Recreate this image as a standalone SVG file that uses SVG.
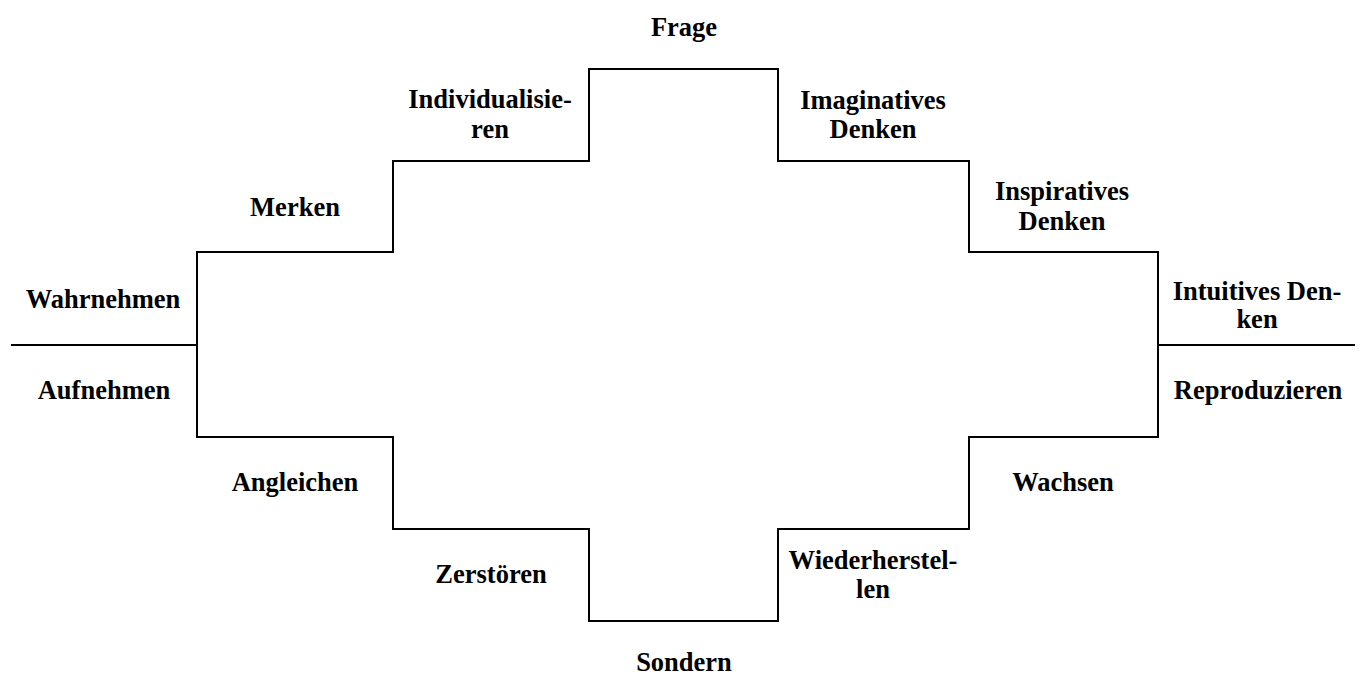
<svg xmlns="http://www.w3.org/2000/svg" width="1361" height="679" viewBox="0 0 1361 679">
<style>
.l{fill:none;stroke:#000;stroke-width:2}
text{font-family:"Liberation Serif","Times New Roman",serif;font-weight:bold;font-size:26.5px;fill:#000;text-anchor:middle}
</style>
<rect width="1361" height="679" fill="#fff"/>
<g id="connectors">
<polygon class="l" points="197,252 393,252 393,161 589,161 589,69 778,69 778,161 969,161 969,252 1158,252 1158,437 969,437 969,529 778,529 778,621 589,621 589,529 393,529 393,437 197,437"/>
<line class="l" x1="11" y1="345" x2="197" y2="345"/>
<line class="l" x1="1158" y1="345" x2="1355" y2="345"/>
</g>
<g id="frage"><text x="684" y="36">Frage</text></g>
<g id="individualisieren"><text x="490" y="108">Individualisie-</text><text x="490" y="138">ren</text></g>
<g id="imaginatives"><text x="873" y="109">Imaginatives</text><text x="873" y="138">Denken</text></g>
<g id="merken"><text x="295" y="216">Merken</text></g>
<g id="inspiratives"><text x="1062" y="200">Inspiratives</text><text x="1062" y="230">Denken</text></g>
<g id="wahrnehmen"><text x="103" y="308">Wahrnehmen</text></g>
<g id="aufnehmen"><text x="104" y="399">Aufnehmen</text></g>
<g id="intuitives"><text x="1257" y="300">Intuitives Den-</text><text x="1257" y="328">ken</text></g>
<g id="reproduzieren"><text x="1258" y="399">Reproduzieren</text></g>
<g id="angleichen"><text x="295" y="491">Angleichen</text></g>
<g id="wachsen"><text x="1063" y="491">Wachsen</text></g>
<g id="zerstoeren"><text x="491" y="583">Zerstören</text></g>
<g id="wiederherstellen"><text x="873" y="569">Wiederherstel-</text><text x="873" y="598">len</text></g>
<g id="sondern"><text x="684" y="671">Sondern</text></g>
</svg>
